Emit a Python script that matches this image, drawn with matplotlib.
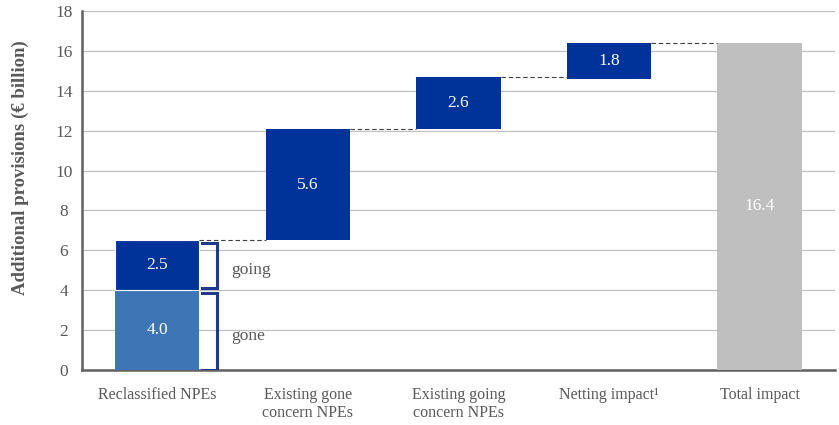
import matplotlib
matplotlib.use("Agg")
import matplotlib.pyplot as plt
import numpy as np

# data
categories = ['Reclassified NPEs', 'Existing gone\nconcern NPEs', 'Existing going\nconcern NPEs',
              'Netting impact\u00b9', 'Total impact']
gone_val = 4.0
going_val = 2.5
steps = [5.6, 2.6, 1.8]
total = 16.4

dark = '#003399'
light = '#3D75B5'
grey = '#BFBFBF'
txt = '#595959'

plt.rcParams['font.family'] = ['Liberation Serif', 'DejaVu Serif']

fig = plt.figure(figsize=(8.39, 4.25), dpi=100)
ax = fig.add_axes([0.0977, 0.1294, 0.8973, 0.8446])

w = 0.56
x = np.arange(len(categories))
fs = 12.5

# first stacked bar
ax.bar(x[0], gone_val, w, color=light, zorder=3)
ax.bar(x[0], going_val, w, bottom=gone_val, color=dark, zorder=3, edgecolor='white', linewidth=0.8)
ax.text(x[0], gone_val / 2, '%.1f' % gone_val, ha='center', va='center', color='white', fontsize=fs, zorder=4)
ax.text(x[0], gone_val + going_val / 2, '%.1f' % going_val, ha='center', va='center', color='white', fontsize=fs, zorder=4)

# floating steps
tops = [gone_val + going_val]
level = gone_val + going_val
for i, v in enumerate(steps):
    b = level if i < len(steps) - 1 else total - v
    ax.bar(x[i + 1], v, w, bottom=b, color=dark, zorder=3)
    ax.text(x[i + 1], b + v / 2, '%.1f' % v, ha='center', va='center', color='white', fontsize=fs, zorder=4)
    level = b + v
    tops.append(level)

# total
ax.bar(x[4], total, w, color=grey, zorder=3)
ax.text(x[4], total / 2, '%.1f' % total, ha='center', va='center', color='white', fontsize=fs, zorder=4)

# connectors
for i in range(4):
    ax.plot([x[i] + w / 2, x[i + 1] - w / 2], [tops[i], tops[i]], color='#404040',
            linestyle=(0, (4, 2.5)), linewidth=0.8, zorder=4)

# brackets
bx0, bx1 = 0.30, 0.395
for lo, hi in [(0.0, gone_val - 0.12), (gone_val + 0.12, gone_val + going_val - 0.15)]:
    ax.plot([bx0, bx1, bx1, bx0], [hi, hi, lo, lo], color='#1F3A8A', linewidth=2.2,
            solid_joinstyle='miter', zorder=4)
ax.text(0.49, 5.0, 'going', ha='left', va='center', color=txt, fontsize=fs)
ax.text(0.49, 1.7, 'gone', ha='left', va='center', color=txt, fontsize=fs)

ax.set_xlim(-0.5, 4.5)
ax.set_ylim(0, 18)
ax.set_yticks(np.arange(0, 19, 2))
ax.set_xticks(x)
ax.set_xticklabels(categories, fontsize=11.5, color=txt, va='top', linespacing=1.2)
ax.tick_params(axis='y', labelsize=fs, labelcolor=txt, length=0, pad=13)
ax.tick_params(axis='x', length=0, pad=12)
for lab in ax.get_yticklabels():
    lab.set_horizontalalignment('center')
ax.yaxis.grid(True, color='#C0C0C0', linewidth=0.9, zorder=0)
ax.set_axisbelow(True)
for s in ['top', 'right']:
    ax.spines[s].set_visible(False)
for s in ['left', 'bottom']:
    ax.spines[s].set_color('#606060')
    ax.spines[s].set_linewidth(1.8)
ax.set_ylabel('Additional provisions (\u20ac billion)', fontsize=13.5, fontweight='bold', color=txt)
ax.yaxis.set_label_coords(-0.07, 0.565)

fig.savefig('out.png', dpi=100)
